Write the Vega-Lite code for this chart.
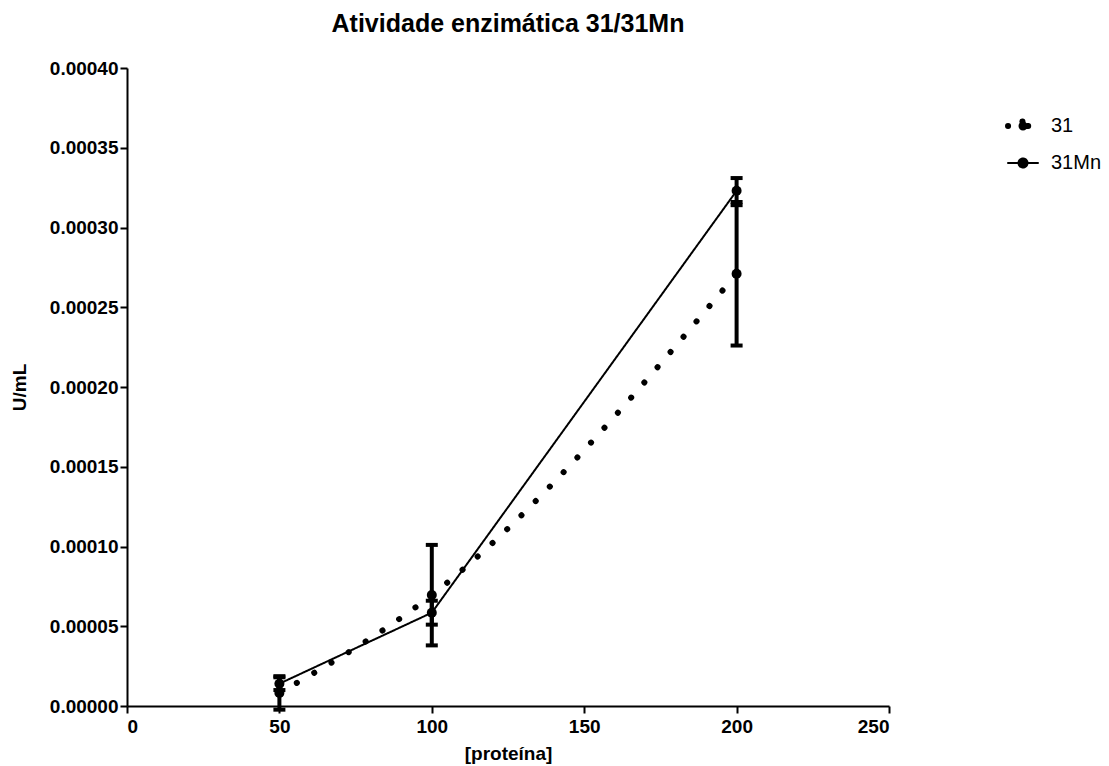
{
  "$schema": "https://vega.github.io/schema/vega-lite/v6.json",
  "autosize": "none",
  "padding": {"left": 127, "top": 68, "right": 220, "bottom": 60},
  "width": 762,
  "height": 638,
  "background": "white",
  "title": {"text": "Atividade enzimática 31/31Mn", "font": "Liberation Sans", "fontSize": 25, "fontWeight": "bold", "color": "black", "anchor": "middle", "offset": 22},
  "config": {
    "view": {"stroke": null},
    "axis": {"grid": false, "domainColor": "black", "domainWidth": 2, "tickColor": "black", "tickWidth": 2, "tickSize": 7, "labelFont": "Liberation Sans", "labelFontWeight": "bold", "labelFontSize": 19, "labelColor": "black", "titleFont": "Liberation Sans", "titleFontWeight": "bold", "titleFontSize": 19, "titleColor": "black"}
  },
  "data": {"values": [
    {"serie": "31", "x": 50, "y": 0.0000082, "lo": -0.0000023, "hi": 0.0000187},
    {"serie": "31", "x": 100, "y": 0.0000696, "lo": 0.000038, "hi": 0.000101},
    {"serie": "31", "x": 200, "y": 0.000271, "lo": 0.000226, "hi": 0.000316},
    {"serie": "31Mn", "x": 50, "y": 0.000014, "lo": 0.00001, "hi": 0.000018},
    {"serie": "31Mn", "x": 100, "y": 0.0000585, "lo": 0.000051, "hi": 0.000066},
    {"serie": "31Mn", "x": 200, "y": 0.000323, "lo": 0.000314, "hi": 0.000331}
  ]},
  "encoding": {
    "x": {"field": "x", "type": "quantitative", "scale": {"domain": [0, 250], "nice": false}, "axis": {"values": [0, 50, 100, 150, 200, 250], "title": "[proteína]", "titlePadding": 8, "labelPadding": 4}},
    "y": {"field": "y", "type": "quantitative", "scale": {"domain": [0, 0.0004], "nice": false, "zero": false}, "axis": {"values": [0, 0.00005, 0.0001, 0.00015, 0.0002, 0.00025, 0.0003, 0.00035, 0.0004], "format": ".5f", "title": "U/mL", "titlePadding": 20, "labelPadding": 2}}
  },
  "layer": [
    {
      "transform": [{"filter": "datum.serie === '31'"}],
      "mark": {"type": "line", "interpolate": "monotone", "color": "black", "strokeCap": "round"},
      "encoding": {
        "strokeDash": {"field": "serie", "type": "nominal", "scale": {"domain": ["31", "31Mn"], "range": [[0.1, 20], [1, 0]]},
          "legend": {"title": null, "orient": "none", "legendX": 878, "legendY": 40, "labelFont": "Liberation Sans", "labelFontSize": 20, "labelColor": "black", "rowPadding": 4, "labelOffset": 10, "symbolType": "M-1,0L1,0M0.3,0A0.3,0.3,0,1,1,-0.3,0A0.3,0.3,0,1,1,0.3,0Z", "symbolSize": 900, "symbolStrokeColor": "black",
            "encode": {"symbols": {"update": {"fill": {"value": "black"}, "stroke": {"value": "black"}, "strokeCap": {"value": "round"}}}}}},
        "strokeWidth": {"field": "serie", "type": "nominal", "scale": {"domain": ["31", "31Mn"], "range": [6, 2]}, "legend": null}
      }
    },
    {
      "transform": [{"filter": "datum.serie === '31Mn'"}],
      "mark": {"type": "line", "color": "black"},
      "encoding": {
        "strokeDash": {"field": "serie", "type": "nominal"},
        "strokeWidth": {"field": "serie", "type": "nominal", "legend": null}
      }
    },
    {
      "mark": {"type": "rule", "color": "black", "strokeWidth": 4},
      "encoding": {"y": {"field": "lo", "type": "quantitative"}, "y2": {"field": "hi"}}
    },
    {
      "mark": {"type": "tick", "orient": "horizontal", "color": "black", "opacity": 1, "thickness": 4, "size": 12},
      "encoding": {"y": {"field": "lo", "type": "quantitative"}}
    },
    {
      "mark": {"type": "tick", "orient": "horizontal", "color": "black", "opacity": 1, "thickness": 4, "size": 12},
      "encoding": {"y": {"field": "hi", "type": "quantitative"}}
    },
    {
      "mark": {"type": "point", "filled": true, "color": "black", "opacity": 1, "size": 100},
      "encoding": {}
    }
  ]
}
